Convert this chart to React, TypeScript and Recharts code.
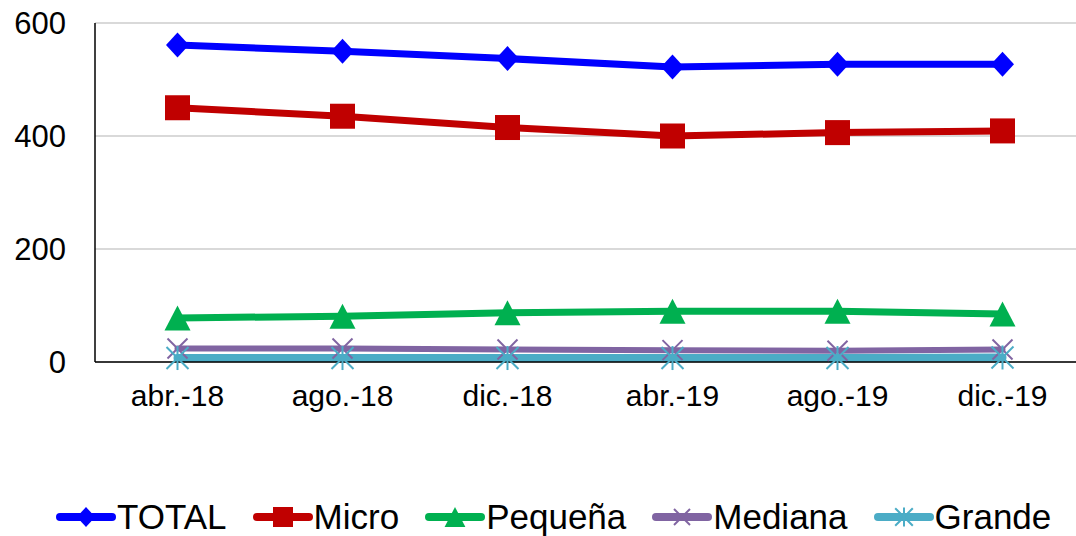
import React from 'react';
import { LineChart, Line, XAxis, YAxis, CartesianGrid, Legend } from 'recharts';

const categories = ['abr.-18', 'ago.-18', 'dic.-18', 'abr.-19', 'ago.-19', 'dic.-19'];
const total = [561, 550, 537, 522, 527, 527];
const micro = [450, 435, 415, 400, 406, 409];
const pequena = [78, 81, 87, 90, 90, 85];
const mediana = [24, 24, 22, 21, 20, 22];
const grande = [7, 7, 7, 7, 7, 8];
const yTicks = [0, 200, 400, 600];

const data = categories.map((c, i) => ({
  cat: c,
  TOTAL: total[i],
  Micro: micro[i],
  'Pequeña': pequena[i],
  Mediana: mediana[i],
  Grande: grande[i],
}));

const FONT = 'Liberation Sans, Arial, sans-serif';

type MarkerKind = 'diamond' | 'square' | 'triangle' | 'x' | 'star';

function marker(kind: MarkerKind, cx: number, cy: number, color: string, s: number, key?: any) {
  switch (kind) {
    case 'diamond':
      return (
        <path key={key} d={`M${cx},${cy - 12.5 * s}L${cx + 11.5 * s},${cy}L${cx},${cy + 12.5 * s}L${cx - 11.5 * s},${cy}Z`} fill={color} stroke="none" />
      );
    case 'square':
      return <rect key={key} x={cx - 12.5 * s} y={cy - 12.5 * s} width={25 * s} height={25 * s} fill={color} />;
    case 'triangle':
      return (
        <path key={key} d={`M${cx},${cy - 12.5 * s}L${cx + 13 * s},${cy + 12.5 * s}L${cx - 13 * s},${cy + 12.5 * s}Z`} fill={color} />
      );
    case 'x':
      return (
        <g key={key} stroke={color} strokeWidth={2}>
          <line x1={cx - 10 * s} y1={cy - 10 * s} x2={cx + 10 * s} y2={cy + 10 * s} />
          <line x1={cx - 10 * s} y1={cy + 10 * s} x2={cx + 10 * s} y2={cy - 10 * s} />
        </g>
      );
    case 'star':
    default:
      return (
        <g key={key} stroke={color} strokeWidth={2}>
          <line x1={cx - 11 * s} y1={cy - 11 * s} x2={cx + 11 * s} y2={cy + 11 * s} />
          <line x1={cx - 11 * s} y1={cy + 11 * s} x2={cx + 11 * s} y2={cy - 11 * s} />
          <line x1={cx} y1={cy - 12 * s} x2={cx} y2={cy + 12 * s} />
        </g>
      );
  }
}

const series: { key: string; color: string; width: number; kind: MarkerKind }[] = [
  { key: 'TOTAL', color: '#0000FF', width: 7, kind: 'diamond' },
  { key: 'Micro', color: '#C00000', width: 7, kind: 'square' },
  { key: 'Pequeña', color: '#00B050', width: 7, kind: 'triangle' },
  { key: 'Mediana', color: '#8064A2', width: 6, kind: 'x' },
  { key: 'Grande', color: '#4BACC6', width: 8, kind: 'star' },
];

const renderLegend = () => (
  <div style={{ display: 'flex', alignItems: 'center', fontFamily: FONT, fontSize: 35, color: '#000', lineHeight: '41px' }}>
    {series.map((s) => (
      <div key={s.key} style={{ display: 'flex', alignItems: 'center', marginRight: 26 }}>
        <svg width={60} height={41} style={{ display: 'block' }}>
          <line x1={4} y1={21} x2={56} y2={21} stroke={s.color} strokeWidth={8} strokeLinecap="round" />
          {marker(s.kind, 30, 21, s.color, 0.8)}
        </svg>
        <span style={{ marginLeft: 1, whiteSpace: 'nowrap' }}>{s.key}</span>
      </div>
    ))}
  </div>
);

export default function App() {
  return (
    <div style={{ position: 'absolute', left: 0, top: 0, width: 1076, height: 536, overflow: 'hidden', background: '#fff' }}>
      <LineChart width={1100} height={536} data={data} margin={{ top: 23, right: 15, left: 0, bottom: 114 }}>
        <CartesianGrid vertical={false} stroke="#cccccc" strokeWidth={1.5} />
        <XAxis
          dataKey="cat"
          padding={{ left: 82.5, right: 82.5 }}
          axisLine={{ stroke: '#000', strokeWidth: 1.5 }}
          tickLine={false}
          tickSize={0}
          tickMargin={23}
          height={60}
          interval={0}
          tick={{ fontSize: 30, fill: '#000', fontFamily: FONT }}
        />
        <YAxis
          domain={[0, 600]}
          ticks={yTicks}
          width={95}
          axisLine={{ stroke: '#000', strokeWidth: 1.5 }}
          tickLine={false}
          tickSize={0}
          tickMargin={29}
          tick={{ fontSize: 31, fill: '#000', fontFamily: FONT }}
        />
        <Legend
          layout="horizontal"
          verticalAlign="middle"
          align="center"
          content={renderLegend}
          wrapperStyle={{ position: 'absolute', left: 56, top: 496, width: 1040, height: 41 }}
        />
        {series.map((s) => (
          <Line
            key={s.key}
            dataKey={s.key}
            stroke={s.color}
            strokeWidth={s.width}
            strokeLinecap="round"
            strokeLinejoin="round"
            isAnimationActive={false}
            activeDot={false}
            dot={(p: any) => marker(s.kind, p.cx, p.cy, s.color, 1, `${s.key}-${p.index}`)}
          />
        ))}
      </LineChart>
    </div>
  );
}
